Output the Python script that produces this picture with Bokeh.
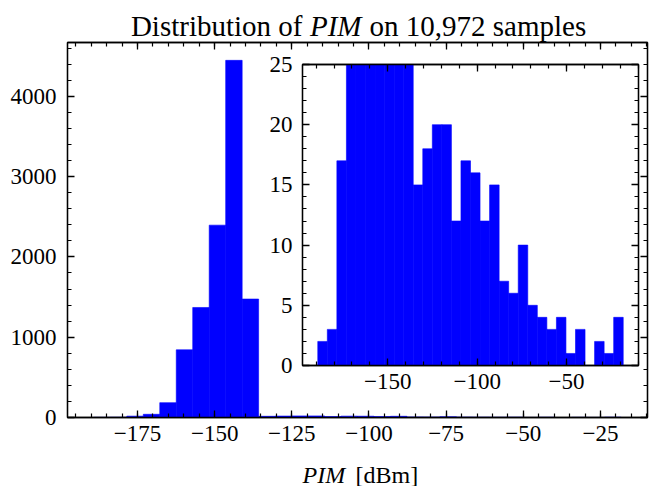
import numpy as np
from bokeh.plotting import figure
from bokeh.layouts import column
from bokeh.models import Range1d, FixedTicker, LinearAxis, Label, GridBox
from bokeh.embed import file_html
from bokeh.resources import INLINE

# ---------------- data ----------------
bin_min = -189.14
bin_max = -18.30
n_bins = 32
counts = [2, 3, 17, 40, 185, 843, 1370, 2395, 4447, 1475,
          15, 18, 20, 20, 12, 17, 16, 12, 15, 7, 6, 10,
          5, 4, 3, 4, 1, 3, 0, 2, 1, 4]

main_xticks = [-175, -150, -125, -100, -75, -50, -25]
main_xminor = list(range(-195, -9, 5))
main_yticks = [0, 1000, 2000, 3000, 4000]
main_yminor = list(range(0, 4601, 200))

inset_xticks = [-150, -100, -50]
inset_xminor = list(range(-190, -9, 10))
inset_yticks = [0, 5, 10, 15, 20, 25]
inset_yminor = list(range(0, 26))
inset_ymax = 25

title_parts = ["Distribution of", "PIM", "on 10,972 samples"]
xlabel_parts = ["PIM", "[dBm]"]

BLUE = "#0000ff"
FONT = "Liberation Serif"

edges = np.linspace(bin_min, bin_max, n_bins + 1)
span = bin_max - bin_min
x0, x1 = bin_min - 0.05 * span, bin_max + 0.05 * span
ymax = 1.05 * max(counts)

W, H = 651, 486


def minus(v):
    return str(v).replace("-", "\u2212")


def style_axis(ax, ticks, minor, labels=True):
    ax.ticker = FixedTicker(ticks=ticks, minor_ticks=minor)
    ax.axis_line_color = "black"
    ax.axis_line_width = 1.3
    ax.major_tick_in = 7
    ax.major_tick_out = 0
    ax.minor_tick_in = 4
    ax.minor_tick_out = 0
    ax.major_tick_line_color = "black"
    ax.minor_tick_line_color = "black"
    ax.major_tick_line_width = 1.3
    ax.minor_tick_line_width = 1.2
    ax.major_label_text_font = FONT
    ax.major_label_text_color = "black"
    ax.major_label_text_font_size = "23px"
    ax.major_label_overrides = {t: minus(t) for t in ticks}
    if not labels:
        ax.major_label_text_font_size = "0px"
        ax.major_label_text_color = None
        ax.major_label_standoff = 0


def bars(fig):
    fig.quad(left=edges[:-1], right=edges[1:], bottom=0, top=counts,
             fill_color=BLUE, line_color=BLUE, line_width=0.6)


# ---------------- main ----------------
p = figure(width=W, height=H, x_range=Range1d(x0, x1), y_range=Range1d(0, ymax),
           output_backend="svg", toolbar_location=None,
           min_border_left=67, min_border_right=4, min_border_top=42, min_border_bottom=69,
           outline_line_color="black", outline_line_width=1.3,
           background_fill_color="white", border_fill_color="white")
p.grid.visible = False
bars(p)
style_axis(p.xaxis[0], main_xticks, main_xminor)
p.xaxis[0].major_label_standoff = 8
style_axis(p.yaxis[0], main_yticks, main_yminor)
p.yaxis[0].major_label_standoff = 11
top_ax = LinearAxis()
style_axis(top_ax, main_xticks, main_xminor, labels=False)
p.add_layout(top_ax, "above")
right_ax = LinearAxis()
style_axis(right_ax, main_yticks, main_yminor, labels=False)
p.add_layout(right_ax, "right")

# ---------------- inset ----------------
IL, IT, IR, IB = 45, 16, 10, 40
IFW, IFH = 336, 301
inset = figure(width=IL + IFW + IR, height=IT + IFH + IB,
               x_range=Range1d(x0, x1), y_range=Range1d(0, inset_ymax),
               output_backend="svg", toolbar_location=None,
               min_border_left=IL, min_border_right=IR, min_border_top=IT, min_border_bottom=IB,
               outline_line_color="black", outline_line_width=1.3,
               background_fill_color="white", border_fill_color=None)
inset.grid.visible = False
bars(inset)
style_axis(inset.xaxis[0], inset_xticks, inset_xminor)
inset.xaxis[0].major_label_standoff = 8
style_axis(inset.yaxis[0], inset_yticks, inset_yminor)
inset.yaxis[0].major_label_standoff = 10
itop = LinearAxis()
style_axis(itop, inset_xticks, inset_xminor, labels=False)
inset.add_layout(itop, "above")
iright = LinearAxis()
style_axis(iright, inset_yticks, inset_yminor, labels=False)
inset.add_layout(iright, "right")
inset_box = column(inset, margin=(64 - IT, 0, 0, 302 - IL))

# ---------------- text overlay (title and x label) ----------------
ov = figure(width=W, height=H, x_range=Range1d(0, W), y_range=Range1d(H, 0),
            output_backend="svg", toolbar_location=None,
            x_axis_type=None, y_axis_type=None, min_border=0,
            outline_line_color=None, background_fill_color=None, border_fill_color=None)
ov.grid.visible = False


def add_text(x, y, txt, size, align, italic=False):
    ov.add_layout(Label(x=x, y=y, text=txt, text_font=FONT, text_font_size=size,
                        text_font_style="italic" if italic else "normal",
                        text_align=align, text_baseline="alphabetic", text_color="black"))


add_text(302, 25, title_parts[0], "29px", "right")
add_text(309.5, 25, title_parts[1], "29px", "left", italic=True)
add_text(369, 25, title_parts[2], "29px", "left")
add_text(302, 474, xlabel_parts[0], "24px", "left", italic=True)
add_text(355, 474, xlabel_parts[1], "24px", "left")
ov_box = column(ov)

layout = GridBox(children=[(p, 0, 0), (inset_box, 0, 0), (ov_box, 0, 0)])

open("out.html", "w").write(file_html(layout, INLINE))
